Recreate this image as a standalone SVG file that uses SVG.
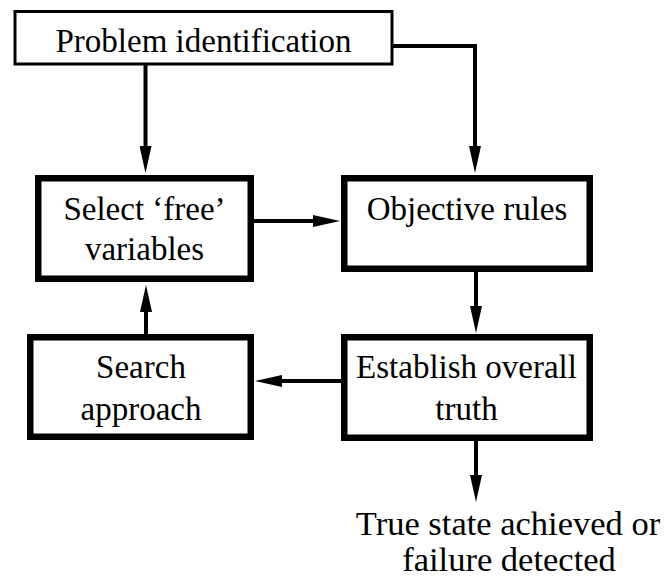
<svg xmlns="http://www.w3.org/2000/svg" width="665" height="578" viewBox="0 0 665 578">
  <style>
    .box { fill: #ffffff; stroke: #000000; stroke-width: 6.5; }
    .thin { fill: #ffffff; stroke: #000000; stroke-width: 3; }
    .lbl { font-size: 33px; fill: #000000; text-anchor: middle; }
    .out { font-size: 34.5px; fill: #000000; text-anchor: middle; }
    .conn { fill: none; stroke: #000000; stroke-width: 4; stroke-linejoin: miter; marker-end: url(#head); }
  </style>
  <defs>
    <marker id="head" markerUnits="userSpaceOnUse" markerWidth="28" markerHeight="12" refX="0" refY="6" orient="auto">
      <path d="M0,0 L27,6 L0,12 z" fill="#000000"/>
    </marker>
  </defs>
  <rect x="0" y="0" width="665" height="578" fill="#ffffff"/>

  <g id="connectors">
    <path class="conn" d="M145.5,64 V146"/>
    <path class="conn" d="M392,46 H475 V146"/>
    <path class="conn" d="M254,221 H313"/>
    <path class="conn" d="M476,272 V306"/>
    <path class="conn" d="M146,334 V312"/>
    <path class="conn" d="M341,381 H282"/>
    <path class="conn" d="M476,441 V475"/>
  </g>

  <g font-family="Liberation Serif, Tinos, DejaVu Serif, serif">
  <g id="problem">
    <rect class="thin" x="15" y="11.5" width="377" height="52.5"/>
    <text class="lbl" x="203.5" y="52">Problem identification</text>
  </g>

  <g id="select">
    <rect class="box" x="38.25" y="178.25" width="212.5" height="100.5"/>
    <text class="lbl" x="144.5" y="220">Select ‘free’</text>
    <text class="lbl" x="144.5" y="260">variables</text>
  </g>

  <g id="objective">
    <rect class="box" x="344.25" y="178.25" width="245.5" height="90.5"/>
    <text class="lbl" x="467" y="220">Objective rules</text>
  </g>

  <g id="search">
    <rect class="box" x="30.25" y="337.25" width="220.5" height="99.5"/>
    <text class="lbl" x="141" y="378">Search</text>
    <text class="lbl" x="141" y="420">approach</text>
  </g>

  <g id="establish">
    <rect class="box" x="344.25" y="337.25" width="245.5" height="100.5"/>
    <text class="lbl" x="466.5" y="378">Establish overall</text>
    <text class="lbl" x="466.5" y="420">truth</text>
  </g>

  <g id="outcome">
    <text class="out" x="508" y="535">True state achieved or</text>
    <text class="out" x="509" y="571">failure detected</text>
  </g>
  </g>
</svg>
